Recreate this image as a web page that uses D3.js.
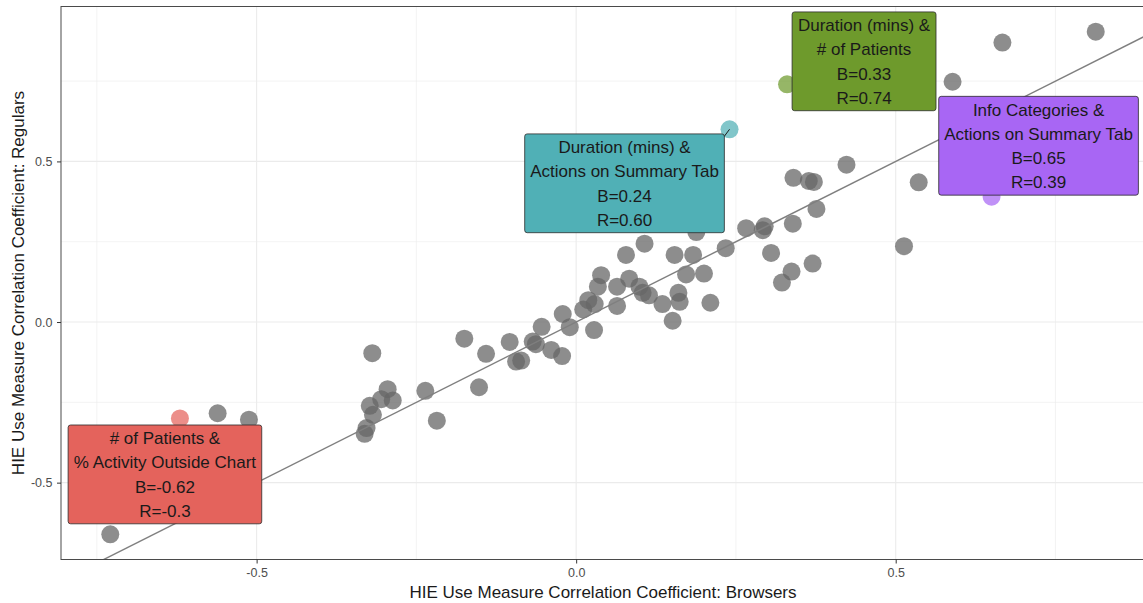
<!DOCTYPE html>
<html>
<head>
<meta charset="utf-8">
<script src="https://cdn.jsdelivr.net/npm/d3@7"></script>
<style>
  body { margin: 0; background: #fff; }
  text { font-family: "Liberation Sans", Arial, Helvetica, sans-serif; }
</style>
</head>
<body>
<svg id="chart" width="1143" height="603"></svg>
<script>
// Correlation coefficients of HIE use measure pairs: browsers (x) vs regulars (y)
const browsers = [
  0.813, 0.667, 0.589, 0.536, 0.513, 0.423, 0.340, 0.364, 0.372, 0.376,
  0.266, 0.295, 0.292, 0.339, 0.234, 0.305, 0.370, 0.337, 0.322, 0.078,
  0.107, 0.154, 0.183, 0.188, 0.039, 0.034, 0.064, 0.083, 0.099, 0.104,
  0.114, 0.172, 0.200, 0.160, 0.162, 0.135, 0.210, 0.151, 0.064, 0.019,
  0.011, 0.029, -0.021, -0.010, 0.028, -0.319, -0.175, -0.141, -0.104, -0.094,
  -0.086, -0.068, -0.063, -0.054, -0.039, -0.022, -0.295, -0.305, -0.287, -0.323,
  -0.318, -0.328, -0.331, -0.236, -0.218, -0.152, -0.561, -0.512, -0.729
];
const regulars = [
  0.904, 0.870, 0.748, 0.435, 0.236, 0.490, 0.449, 0.439, 0.436, 0.352,
  0.292, 0.298, 0.286, 0.306, 0.230, 0.215, 0.182, 0.157, 0.123, 0.209,
  0.244, 0.209, 0.209, 0.280, 0.146, 0.110, 0.110, 0.135, 0.110, 0.091,
  0.083, 0.148, 0.151, 0.091, 0.063, 0.056, 0.060, 0.004, 0.050, 0.068,
  0.039, 0.056, 0.025, -0.016, -0.025, -0.097, -0.052, -0.099, -0.062, -0.123,
  -0.120, -0.061, -0.069, -0.015, -0.087, -0.106, -0.209, -0.240, -0.244, -0.261,
  -0.289, -0.330, -0.348, -0.214, -0.307, -0.203, -0.284, -0.304, -0.661
];

// Highlighted measure pairs with their browser (B) and regular (R) coefficients
const pairFirst  = ["# of Patients &", "Duration (mins) &", "Duration (mins) &", "Info Categories &"];
const pairSecond = ["% Activity Outside Chart", "# of Patients", "Actions on Summary Tab", "Actions on Summary Tab"];
const pairB = ["-0.62", "0.33", "0.24", "0.65"];
const pairR = ["-0.3", "0.74", "0.60", "0.39"];

// Reference line: regulars = browsers
const refSlope = 1, refIntercept = 0;

const xTicks = [-0.5, 0, 0.5];
const yTicks = [-0.5, 0, 0.5];
const xMinorTicks = [-0.75, -0.25, 0.25, 0.75];
const yMinorTicks = [-0.75, -0.25, 0.25, 0.75];

// ---- styling ----
const pairColor = ["#E4635C", "#6E9A2C", "#50B0B6", "#A866F4"];
// label box placement: offset of box centre from its point, in pixels
const boxOffset = [[-15, 56], [77, -23], [-105, 54], [47, -51]];
const boxSegment = [false, false, true, false];

const panel = { left: 61, right: 1145, top: 6.5, bottom: 559.5 };

const svg = d3.select("#chart");

const gray = browsers.map((b, i) => ({ x: b, y: regulars[i] }));
const pairs = pairB.map((b, i) => ({
  x: +b, y: +pairR[i],
  lines: [pairFirst[i], pairSecond[i], "B=" + b, "R=" + pairR[i]],
  i
}));
const all = gray.concat(pairs);

// 5% expansion of the data range on both axes
function expand(ext) { const r = ext[1] - ext[0]; return [ext[0] - 0.05 * r, ext[1] + 0.05 * r]; }
const x = d3.scaleLinear().domain(expand(d3.extent(all, d => d.x))).range([panel.left, panel.right]);
const y = d3.scaleLinear().domain(expand(d3.extent(all, d => d.y))).range([panel.bottom, panel.top]);

svg.append("defs").append("clipPath").attr("id", "panelClip")
  .append("rect")
  .attr("x", panel.left).attr("y", panel.top)
  .attr("width", panel.right - panel.left).attr("height", panel.bottom - panel.top);

const plot = svg.append("g").attr("clip-path", "url(#panelClip)");

// grid lines
const grid = plot.append("g");
function vGrid(ticks, w) {
  grid.append("g").selectAll("line").data(ticks).join("line")
    .attr("x1", d => x(d)).attr("x2", d => x(d))
    .attr("y1", panel.top).attr("y2", panel.bottom)
    .attr("stroke", "#ebebeb").attr("stroke-width", w);
}
function hGrid(ticks, w) {
  grid.append("g").selectAll("line").data(ticks).join("line")
    .attr("y1", d => y(d)).attr("y2", d => y(d))
    .attr("x1", panel.left).attr("x2", panel.right)
    .attr("stroke", "#ebebeb").attr("stroke-width", w);
}
vGrid(xMinorTicks, 0.6); hGrid(yMinorTicks, 0.6);
vGrid(xTicks, 1.1); hGrid(yTicks, 1.1);

// points
plot.append("g").selectAll("circle").data(gray).join("circle")
  .attr("cx", d => x(d.x)).attr("cy", d => y(d.y)).attr("r", 9)
  .attr("fill", "#676767").attr("fill-opacity", 0.75);
plot.append("g").selectAll("circle").data(pairs).join("circle")
  .attr("cx", d => x(d.x)).attr("cy", d => y(d.y)).attr("r", 9)
  .attr("fill", d => pairColor[d.i]).attr("fill-opacity", 0.72);

// identity reference line across the panel
const xd = x.domain();
plot.append("line")
  .attr("x1", x(xd[0])).attr("y1", y(refIntercept + refSlope * xd[0]))
  .attr("x2", x(xd[1])).attr("y2", y(refIntercept + refSlope * xd[1]))
  .attr("stroke", "#7f7f7f").attr("stroke-width", 1.4);

// labels
const fontSize = 17, lineH = 24.2;
const labels = plot.append("g");
pairs.forEach(p => {
  const px = x(p.x), py = y(p.y);
  const cx = px + boxOffset[p.i][0], cy = py + boxOffset[p.i][1];
  const g = labels.append("g");
  const rect = g.append("rect");
  const txt = g.append("text")
    .attr("text-anchor", "middle").attr("font-size", fontSize).attr("fill", "#1a1a1a");
  p.lines.forEach((l, k) => {
    txt.append("tspan").attr("x", cx)
      .attr("y", cy + (k - (p.lines.length - 1) / 2) * lineH)
      .attr("dy", "0.36em").text(l);
  });
  const bw = txt.node().getBBox().width + 11;
  const bh = p.lines.length * lineH + 2;
  const bx = cx - bw / 2, by = cy - bh / 2;
  rect.attr("x", bx).attr("y", by).attr("width", bw).attr("height", bh)
    .attr("rx", 2.5).attr("fill", pairColor[p.i])
    .attr("stroke", "#2b2b2b").attr("stroke-width", 0.8);
  if (boxSegment[p.i]) {
    const ex = px < bx ? bx : bx + bw;
    g.insert("line", "rect")
      .attr("x1", ex - 0.5).attr("y1", by + 3)
      .attr("x2", px).attr("y2", py)
      .attr("stroke", "#1a1a1a").attr("stroke-width", 1);
  }
});

// panel border
svg.append("rect")
  .attr("x", panel.left).attr("y", panel.top)
  .attr("width", panel.right - panel.left).attr("height", panel.bottom - panel.top)
  .attr("fill", "none").attr("stroke", "#4a4a4a").attr("stroke-width", 1);

const fmt = d => d.toFixed(1);

const xAxis = svg.append("g").attr("transform", `translate(0,${panel.bottom})`)
  .call(d3.axisBottom(x).tickValues(xTicks).tickFormat(fmt).tickSize(4).tickPadding(5));
const yAxis = svg.append("g").attr("transform", `translate(${panel.left},0)`)
  .call(d3.axisLeft(y).tickValues(yTicks).tickFormat(fmt).tickSize(4).tickPadding(4.5));
[xAxis, yAxis].forEach(a => {
  a.select(".domain").remove();
  a.selectAll(".tick line").attr("stroke", "#333");
  a.selectAll(".tick text").attr("fill", "#4d4d4d").attr("font-size", 12.5)
    .attr("font-family", "'Liberation Sans', Arial, sans-serif");
});

// axis titles
svg.append("text")
  .attr("x", (panel.left + panel.right) / 2).attr("y", 598)
  .attr("text-anchor", "middle").attr("font-size", 17).attr("fill", "#1a1a1a")
  .text("HIE Use Measure Correlation Coefficient: Browsers");
svg.append("text")
  .attr("transform", `translate(24,${(panel.top + panel.bottom) / 2}) rotate(-90)`)
  .attr("text-anchor", "middle").attr("font-size", 17).attr("fill", "#1a1a1a")
  .text("HIE Use Measure Correlation Coefficient: Regulars");
</script>
</body>
</html>
